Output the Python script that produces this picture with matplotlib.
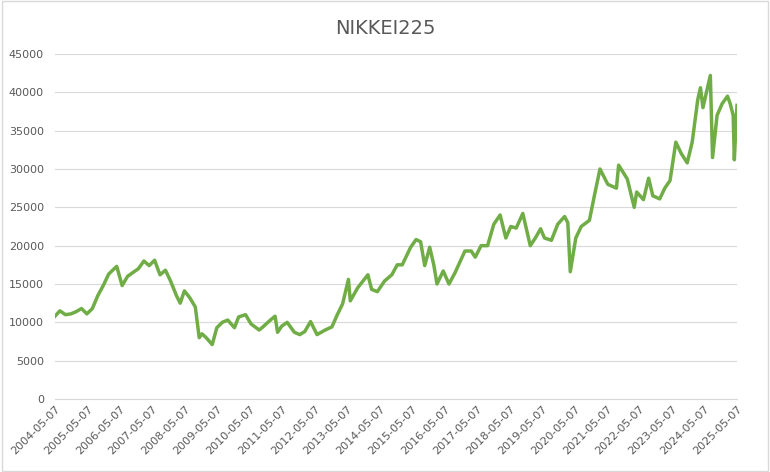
import matplotlib
matplotlib.use("Agg")
import matplotlib.pyplot as plt
import matplotlib.dates as mdates
import pandas as pd

dates = ["2004-05-07","2004-07-01","2004-09-01","2004-11-01","2005-01-01","2005-03-01","2005-05-01","2005-07-01","2005-09-01","2005-11-01",
"2006-01-01","2006-04-01","2006-06-01","2006-08-01","2006-10-01","2006-12-01","2007-02-01","2007-04-01","2007-06-01","2007-08-01",
"2007-10-01","2007-12-01","2008-02-01","2008-03-15","2008-05-01","2008-07-01","2008-09-01","2008-10-15","2008-11-15","2009-01-01",
"2009-03-10","2009-05-01","2009-07-01","2009-09-01","2009-11-15","2010-01-01","2010-03-20","2010-05-20","2010-08-20","2010-10-01",
"2010-12-15","2011-02-15","2011-03-15","2011-05-01","2011-07-01","2011-09-20","2011-11-20","2012-01-15","2012-03-20","2012-06-01",
"2012-09-01","2012-11-15","2013-01-15","2013-03-15","2013-05-20","2013-06-10","2013-09-01","2013-12-25","2014-02-05","2014-04-10",
"2014-07-01","2014-09-20","2014-11-20","2015-01-15","2015-04-20","2015-06-20","2015-08-10","2015-09-25","2015-11-20","2016-01-05",
"2016-02-10","2016-04-20","2016-06-24","2016-09-01","2016-12-20","2017-03-01","2017-04-15","2017-06-20","2017-09-01","2017-11-10",
"2018-01-20","2018-03-25","2018-05-20","2018-07-20","2018-10-02","2018-12-25","2019-02-20","2019-04-20","2019-06-03","2019-08-20",
"2019-10-30","2020-01-15","2020-02-20","2020-03-19","2020-05-20","2020-07-20","2020-10-20","2020-12-20","2021-02-16","2021-05-15",
"2021-08-20","2021-09-14","2021-12-20","2022-03-08","2022-04-05","2022-06-20","2022-08-17","2022-10-03","2022-12-20","2023-02-15",
"2023-04-15","2023-06-19","2023-08-20","2023-10-25","2023-12-20","2024-02-20","2024-03-22","2024-04-19","2024-07-11","2024-08-05",
"2024-09-25","2024-11-20","2025-01-20","2025-02-20","2025-03-25","2025-04-07","2025-04-20","2025-05-01","2025-05-07"]
values = [10800,11500,11000,11100,11400,11800,11100,11800,13500,14800,
16300,17300,14800,16000,16500,17000,18000,17400,18100,16200,
16800,15300,13500,12500,14100,13200,12000,8000,8500,8000,
7100,9300,10000,10300,9300,10700,11000,9800,9000,9400,
10200,10800,8700,9500,10000,8700,8400,8800,10100,8400,
9000,9400,11000,12400,15600,12800,14500,16200,14300,14000,
15400,16200,17500,17500,19800,20800,20500,17400,19800,17500,
15000,16700,15000,16500,19300,19300,18500,20000,20000,22800,
24000,21000,22500,22300,24200,20000,21000,22200,21000,20700,
22800,23800,23000,16600,21000,22500,23300,26800,30000,28000,
27500,30500,28700,25000,27000,26000,28800,26500,26100,27500,
28500,33500,32000,30800,33500,39000,40600,38000,42200,31500,
37000,38500,39500,38500,37000,31200,34500,37000,38300]
yticks = list(range(0, 45001, 5000))
xtick_labels = [f"{y}-05-07" for y in range(2004, 2026)]

d = pd.to_datetime(dates)
fig = plt.figure(figsize=(7.7, 4.72), dpi=100)
fig.patches.append(plt.Rectangle((0.002, 0.002), 0.996, 0.996, transform=fig.transFigure,
                                 fill=False, edgecolor="#d9d9d9", lw=1))
ax = fig.add_axes([55/770, 73/472, 682/770, 345/472])
ax.plot(d, values, color="#70AD47", lw=2.5)
ax.set_ylim(0, 45000)
ax.set_yticks(yticks)
xt = pd.to_datetime(xtick_labels)
ax.set_xticks(xt)
ax.set_xticklabels(xtick_labels, rotation=45, ha="right", rotation_mode="anchor")
ax.set_xlim(xt[0], xt[-1])
ax.grid(axis="y", color="#d9d9d9", lw=0.8)
ax.set_axisbelow(True)
for s in ["top", "right", "left"]:
    ax.spines[s].set_visible(False)
ax.spines["bottom"].set_color("#d9d9d9")
ax.tick_params(axis="both", length=0, labelsize=8, colors="#595959")
ax.tick_params(axis="y", pad=8)
fig.text(0.5, 0.94, "NIKKEI225", ha="center", va="center", fontsize=14, color="#595959")
fig.savefig("out.png", dpi=100)
